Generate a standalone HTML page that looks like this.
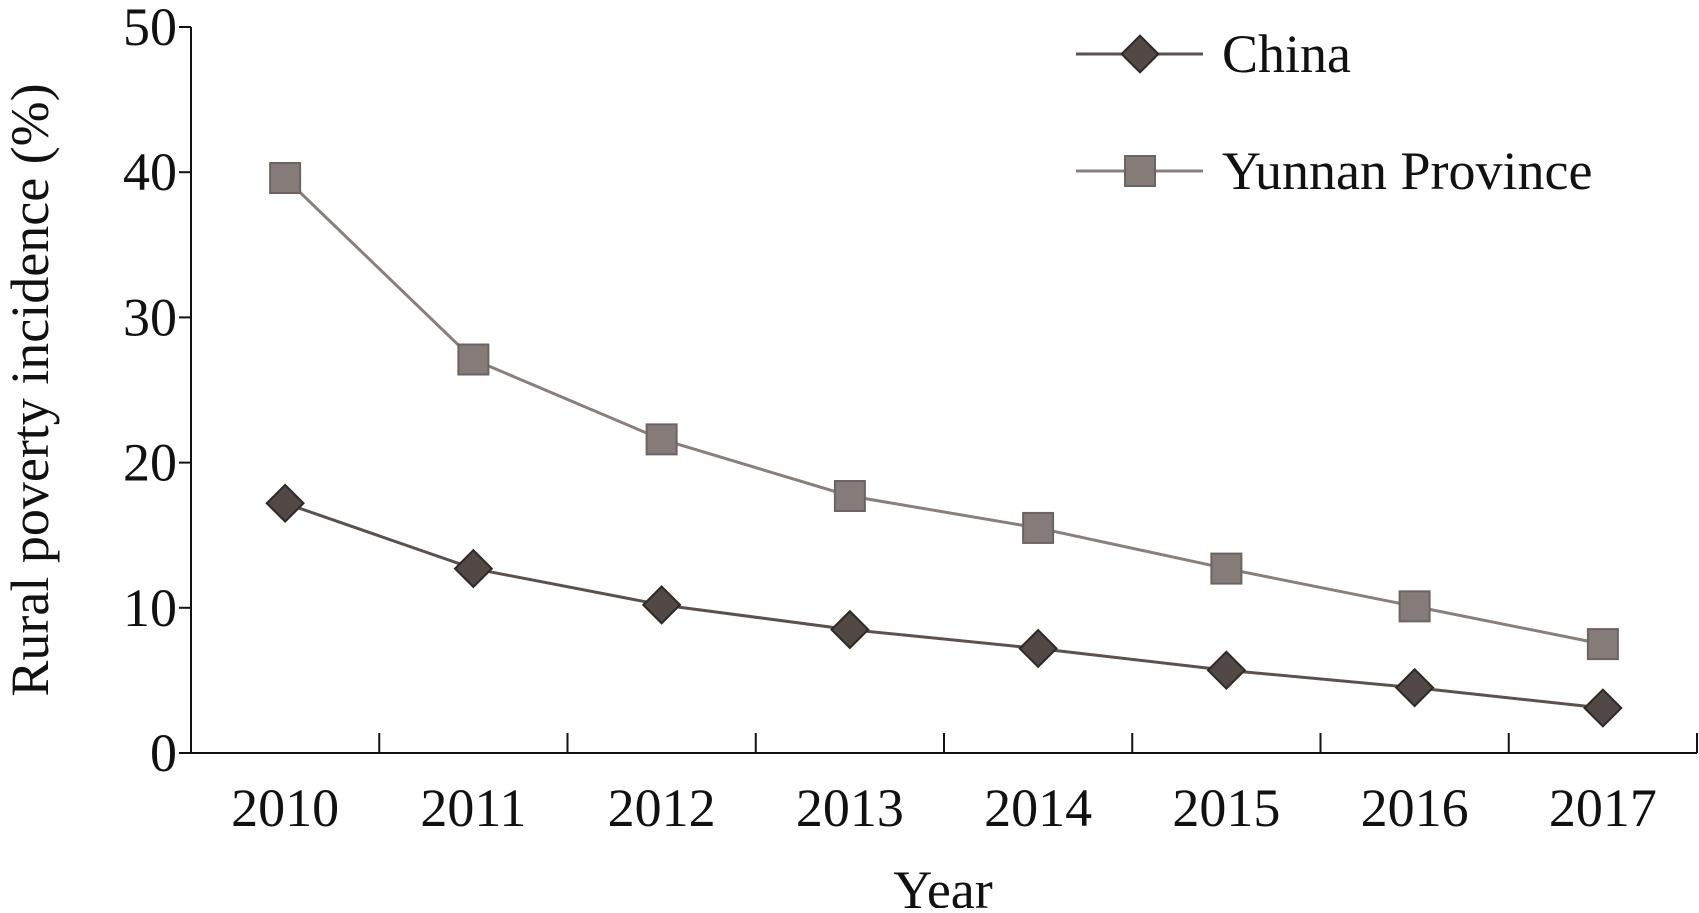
<!DOCTYPE html>
<html><head><meta charset="utf-8"><style>
html,body{margin:0;padding:0;background:#fff;}
svg text{font-family:"Liberation Serif",serif;fill:#111;}
</style></head><body>
<svg id="chart" width="1699" height="908" viewBox="0 0 1699 908">
<g id="axes"></g><g id="series"></g>
<g>
<g>
<line x1="1076" y1="54" x2="1203" y2="54" stroke="#5b514f" stroke-width="3"/>
<rect x="1127" y="41" width="26" height="26" transform="rotate(45 1140 54)" fill="#524846" stroke="#2e2826" stroke-width="2"/>
<text x="1222" y="72" font-size="54">China</text></g>
<g>
<line x1="1076" y1="171" x2="1203" y2="171" stroke="#8a7f7d" stroke-width="3"/>
<rect x="1125" y="156" width="30" height="30" fill="#857b79" stroke="#6d6361" stroke-width="2"/>
<text x="1222" y="189" font-size="54">Yunnan Province</text></g>
</g>
<text transform="translate(48 390) rotate(-90)" text-anchor="middle" font-size="54">Rural poverty incidence (%)</text>
<text x="943" y="908" text-anchor="middle" font-size="54">Year</text>
</svg>
<script>
const years=["2010","2011","2012","2013","2014","2015","2016","2017"];
const china=[17.2,12.7,10.2,8.5,7.2,5.7,4.5,3.1];
const yunnan=[39.6,27.1,21.6,17.7,15.5,12.7,10.1,7.5];
const yTicks=[0,10,20,30,40,50];
const NS="http://www.w3.org/2000/svg";
const X0=191,X1=1697,Y0=753,Y1=27,YMAX=50;
const band=(X1-X0)/years.length;
const xs=i=>X0+band*(i+0.5);
const ys=v=>Y0-(v/YMAX)*(Y0-Y1);
function mk(t,a,p){const e=document.createElementNS(NS,t);for(const k in a)e.setAttribute(k,a[k]);p.appendChild(e);return e;}
const ax=document.getElementById('axes');
let l=mk('line',{x1:X0,y1:Y1,x2:X0,y2:Y0,stroke:'#111','stroke-width':2},ax);


l=mk('line',{x1:X0,y1:Y0,x2:X1,y2:Y0,stroke:'#111','stroke-width':2},ax);


yTicks.forEach(v=>{
 mk('line',{x1:X0-12,y1:ys(v),x2:X0,y2:ys(v),stroke:'#111','stroke-width':2},ax);
 const t=mk('text',{x:X0-14,y:ys(v)+18,'text-anchor':'end','font-size':54},ax);
 t.textContent=v;
 
 
});
years.forEach((y,i)=>{
 const tx=X0+band*(i+1);
 mk('line',{x1:tx,y1:Y0-20,x2:tx,y2:Y0,stroke:'#111','stroke-width':2},ax);
 const t=mk('text',{x:xs(i),y:826,'text-anchor':'middle','font-size':54},ax);
 t.textContent=y;
 
 
});
const sg=document.getElementById('series');
function line(vals,color,name){
 const p=mk('polyline',{points:vals.map((v,i)=>xs(i)+','+ys(v)).join(' '),fill:'none',stroke:color,'stroke-width':3},sg);
 
 
}
line(yunnan,'#8a7f7d','yunnan');
line(china,'#5b514f','china');
yunnan.forEach((v,i)=>{
 const r=mk('rect',{x:xs(i)-15,y:ys(v)-15,width:30,height:30,fill:'#857b79',stroke:'#6d6361','stroke-width':2},sg);
 
 
});
china.forEach((v,i)=>{
 const cx=xs(i),cy=ys(v);
 const r=mk('rect',{x:cx-13,y:cy-13,width:26,height:26,transform:`rotate(45 ${cx} ${cy})`,fill:'#524846',stroke:'#2e2826','stroke-width':2},sg);
 
 
});
</script>
</body></html>
